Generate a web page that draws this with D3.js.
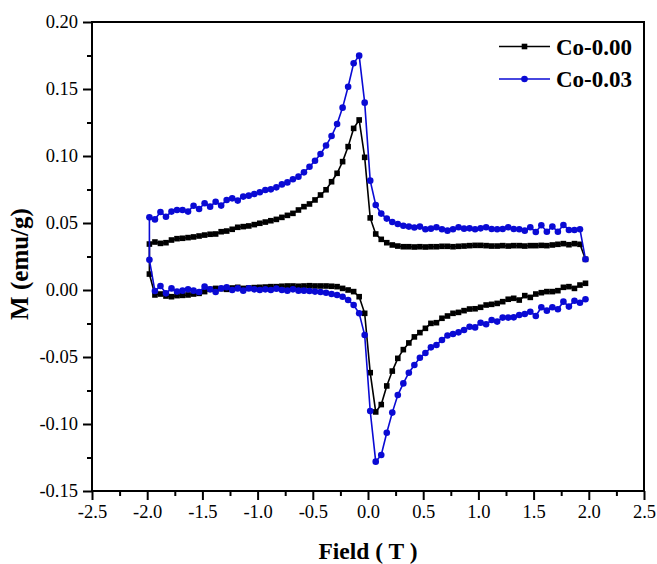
<!DOCTYPE html>
<html>
<head>
<meta charset="utf-8">
<script src="https://cdn.jsdelivr.net/npm/d3@7"></script>
<style>
  body { margin: 0; background: #fff; }
  svg { display: block; font-family: "Liberation Serif", "Times New Roman", serif; }
</style>
</head>
<body>
<div id="chart"></div>
<script>
// M-H loops, Co-0.00 vs Co-0.03

const W = 657, H = 564;
const MARGIN = {LEFT: 92, RIGHT: 13, TOP: 22, BOTTOM: 73};

// field grid (T), same for both branches
const field = [
  -1.98, -1.93, -1.88, -1.83, -1.78, -1.73, -1.68, -1.63, -1.58, -1.53,
  -1.48, -1.43, -1.38, -1.33, -1.28, -1.23, -1.18, -1.13, -1.08, -1.03,
  -0.98, -0.93, -0.88, -0.83, -0.78, -0.73, -0.68, -0.63, -0.58, -0.53,
  -0.48, -0.43, -0.38, -0.33, -0.28, -0.23, -0.18, -0.13, -0.08, -0.03,
  0.02, 0.07, 0.12, 0.17, 0.22, 0.27, 0.32, 0.37, 0.42, 0.47,
  0.52, 0.57, 0.62, 0.67, 0.72, 0.77, 0.82, 0.87, 0.92, 0.97,
  1.02, 1.07, 1.12, 1.17, 1.22, 1.27, 1.32, 1.37, 1.42, 1.47,
  1.52, 1.57, 1.62, 1.67, 1.72, 1.77, 1.82, 1.87, 1.92, 1.97
];

// Co-0.00 (emu/g)
const co000Upper = [
  0.0343, 0.0358, 0.0348, 0.0353, 0.0373, 0.0383, 0.0386, 0.0391, 0.0396, 0.0403,
  0.0410, 0.0416, 0.0418, 0.0435, 0.0440, 0.0453, 0.0468, 0.0473, 0.0478, 0.0488,
  0.0498, 0.0507, 0.0517, 0.0527, 0.0542, 0.0557, 0.0572, 0.0597, 0.0622, 0.0642,
  0.0672, 0.0709, 0.0748, 0.0808, 0.0871, 0.0958, 0.1070, 0.1206, 0.1269, 0.0990,
  0.0538, 0.0418, 0.0378, 0.0353, 0.0336, 0.0328, 0.0323, 0.0323, 0.0321, 0.0323,
  0.0321, 0.0323, 0.0323, 0.0326, 0.0326, 0.0323, 0.0326, 0.0328, 0.0331, 0.0333,
  0.0333, 0.0331, 0.0328, 0.0328, 0.0331, 0.0328, 0.0331, 0.0331, 0.0328, 0.0331,
  0.0331, 0.0333, 0.0331, 0.0336, 0.0341, 0.0346, 0.0338, 0.0346, 0.0341, 0.0229
];
const co000Lower = [
  0.0119, -0.0037, -0.0030, -0.0045, -0.0050, -0.0042, -0.0040, -0.0037, -0.0030, -0.0025,
  -0.0012, 0.0005, 0.0012, 0.0010, 0.0005, 0.0015, 0.0020, 0.0012, 0.0015, 0.0018,
  0.0020, 0.0022, 0.0025, 0.0025, 0.0028, 0.0030, 0.0030, 0.0028, 0.0030, 0.0032,
  0.0030, 0.0030, 0.0030, 0.0028, 0.0025, 0.0012, 0.0000, -0.0012, -0.0050, -0.0174,
  -0.0617, -0.0910, -0.0855, -0.0716, -0.0605, -0.0510, -0.0445, -0.0395, -0.0350, -0.0318,
  -0.0286, -0.0249, -0.0244, -0.0211, -0.0194, -0.0174, -0.0167, -0.0154, -0.0142, -0.0140,
  -0.0129, -0.0112, -0.0107, -0.0100, -0.0087, -0.0069, -0.0062, -0.0075, -0.0042, -0.0055,
  -0.0030, -0.0020, -0.0012, -0.0012, -0.0005, 0.0020, 0.0025, 0.0012, 0.0037, 0.0050
];

// Co-0.03 (emu/g)
const co003Upper = [
  0.0542, 0.0527, 0.0582, 0.0547, 0.0585, 0.0597, 0.0597, 0.0585, 0.0629, 0.0604,
  0.0647, 0.0622, 0.0659, 0.0630, 0.0672, 0.0684, 0.0667, 0.0697, 0.0704, 0.0716,
  0.0729, 0.0746, 0.0751, 0.0766, 0.0788, 0.0803, 0.0826, 0.0846, 0.0878, 0.0920,
  0.0965, 0.1015, 0.1078, 0.1149, 0.1239, 0.1361, 0.1517, 0.1692, 0.1749, 0.1398,
  0.0816, 0.0634, 0.0570, 0.0533, 0.0508, 0.0492, 0.0480, 0.0473, 0.0466, 0.0473,
  0.0453, 0.0458, 0.0468, 0.0453, 0.0443, 0.0453, 0.0468, 0.0458, 0.0460, 0.0453,
  0.0460, 0.0468, 0.0455, 0.0453, 0.0455, 0.0468, 0.0455, 0.0453, 0.0443, 0.0468,
  0.0433, 0.0483, 0.0435, 0.0473, 0.0435, 0.0485, 0.0448, 0.0448, 0.0453, 0.0229
];
const co003Lower = [
  0.0225, -0.0008, 0.0030, -0.0025, 0.0012, -0.0012, -0.0005, 0.0005, -0.0005, -0.0015,
  0.0025, 0.0005, -0.0015, 0.0012, 0.0020, 0.0000, 0.0012, -0.0005, 0.0012, 0.0005,
  0.0000, 0.0005, 0.0000, 0.0010, 0.0000, -0.0005, 0.0005, -0.0005, -0.0005, -0.0008,
  -0.0012, -0.0015, -0.0020, -0.0030, -0.0037, -0.0050, -0.0075, -0.0112, -0.0174, -0.0336,
  -0.0903, -0.1281, -0.1231, -0.1065, -0.0915, -0.0784, -0.0697, -0.0617, -0.0560, -0.0506,
  -0.0470, -0.0428, -0.0410, -0.0373, -0.0340, -0.0328, -0.0316, -0.0299, -0.0274, -0.0279,
  -0.0244, -0.0256, -0.0224, -0.0236, -0.0206, -0.0206, -0.0204, -0.0187, -0.0179, -0.0162,
  -0.0194, -0.0129, -0.0154, -0.0129, -0.0144, -0.0087, -0.0124, -0.0080, -0.0095, -0.0069
];

const seriesNames = ["Co-0.00", "Co-0.03"];
const xTicks = [-2.5, -2.0, -1.5, -1.0, -0.5, 0.0, 0.5, 1.0, 1.5, 2.0, 2.5];
const yTicks = [-0.15, -0.10, -0.05, 0.00, 0.05, 0.10, 0.15, 0.20];

const series = [
  {name: seriesNames[0], upper: co000Upper, lower: co000Lower, color: "#000000", shape: "square"},
  {name: seriesNames[1], upper: co003Upper, lower: co003Lower, color: "#0a0ad4", shape: "circle"}
];

// loop: lower branch from +2 down to -2, then upper branch back up
function loopPoints(s) {
  const low = field.map((f, i) => ({f: f, m: s.lower[i]})).reverse();
  const up = field.map((f, i) => ({f: f, m: s.upper[i]}));
  return low.concat(up);
}

const svg = d3.select("#chart").append("svg")
  .attr("width", W)
  .attr("height", H);

const x = d3.scaleLinear()
  .domain([-2.5, 2.5])
  .range([MARGIN.LEFT, W - MARGIN.RIGHT]);
const y = d3.scaleLinear()
  .domain([-0.15, 0.20])
  .range([H - MARGIN.BOTTOM, MARGIN.TOP]);

// minor ticks
const xMinor = xTicks.slice(0, -1).map(d => d + 0.25);
const yMinor = yTicks.slice(0, -1).map(d => d + 0.025);

svg.append("g")
  .attr("transform", "translate(0," + y.range()[0] + ")")
  .call(d3.axisBottom(x).tickValues(xMinor).tickSize(5).tickFormat(""))
  .call(g => g.select(".domain").remove())
  .call(g => g.selectAll("line").attr("stroke-width", 2));

svg.append("g")
  .attr("transform", "translate(" + x.range()[0] + ",0)")
  .call(d3.axisLeft(y).tickValues(yMinor).tickSize(5).tickFormat(""))
  .call(g => g.select(".domain").remove())
  .call(g => g.selectAll("line").attr("stroke-width", 2));

const xAxisGroup = svg.append("g")
  .attr("transform", "translate(0," + y.range()[0] + ")")
  .call(d3.axisBottom(x).tickValues(xTicks).tickSize(9).tickPadding(5)
    .tickFormat(d => d.toFixed(1)));
xAxisGroup.select(".domain").remove();
xAxisGroup.selectAll("line").attr("stroke-width", 2);
xAxisGroup.selectAll("text")
  .style("font-family", "'Liberation Serif', serif")
  .style("font-size", "18.5px")
  .attr("fill", "#000");

const yAxisGroup = svg.append("g")
  .attr("transform", "translate(" + x.range()[0] + ",0)")
  .call(d3.axisLeft(y).tickValues(yTicks).tickSize(9).tickPadding(5)
    .tickFormat(d => d.toFixed(2)));
yAxisGroup.select(".domain").remove();
yAxisGroup.selectAll("line").attr("stroke-width", 2);
yAxisGroup.selectAll("text")
  .style("font-family", "'Liberation Serif', serif")
  .style("font-size", "18.5px")
  .attr("fill", "#000");

// frame
svg.append("rect")
  .attr("x", x.range()[0])
  .attr("y", y.range()[1])
  .attr("width", x.range()[1] - x.range()[0])
  .attr("height", y.range()[0] - y.range()[1])
  .attr("fill", "none")
  .attr("stroke", "#000")
  .attr("stroke-width", 2);

// curves
const line = d3.line()
  .x(d => x(d.f))
  .y(d => y(d.m));

series.forEach(s => {
  const pts = loopPoints(s);
  const g = svg.append("g");
  g.append("path")
    .datum(pts)
    .attr("fill", "none")
    .attr("stroke", s.color)
    .attr("stroke-width", 1.6)
    .attr("d", line);
  if (s.shape === "square") {
    g.selectAll("rect").data(pts).enter().append("rect")
      .attr("x", d => x(d.f) - 2.8)
      .attr("y", d => y(d.m) - 2.8)
      .attr("width", 5.6)
      .attr("height", 5.6)
      .attr("fill", s.color);
  } else {
    g.selectAll("circle").data(pts).enter().append("circle")
      .attr("cx", d => x(d.f))
      .attr("cy", d => y(d.m))
      .attr("r", 3.3)
      .attr("fill", s.color);
  }
});

// legend
const legend = svg.append("g");
series.forEach((s, i) => {
  const ly = 46.5 + i * 32.5;
  legend.append("line")
    .attr("x1", 499).attr("x2", 550)
    .attr("y1", ly).attr("y2", ly)
    .attr("stroke", s.color)
    .attr("stroke-width", 1.6);
  if (s.shape === "square") {
    legend.append("rect")
      .attr("x", 524.5 - 2.8).attr("y", ly - 2.8)
      .attr("width", 5.6).attr("height", 5.6)
      .attr("fill", s.color);
  } else {
    legend.append("circle")
      .attr("cx", 524.5).attr("cy", ly).attr("r", 3.3)
      .attr("fill", s.color);
  }
  legend.append("text")
    .attr("x", 556)
    .attr("y", ly + 8)
    .attr("font-size", 23)
    .attr("font-weight", "bold")
    .text(s.name);
});

// axis titles
svg.append("text")
  .attr("x", (x.range()[0] + x.range()[1]) / 2)
  .attr("y", 559)
  .attr("text-anchor", "middle")
  .attr("font-size", 23.5)
  .attr("font-weight", "bold")
  .text("Field ( T )");

svg.append("text")
  .attr("transform", "translate(28," + 264 + ")rotate(-90)")
  .attr("text-anchor", "middle")
  .attr("font-size", 25)
  .attr("font-weight", "bold")
  .text("M (emu/g)");
</script>
</body>
</html>
